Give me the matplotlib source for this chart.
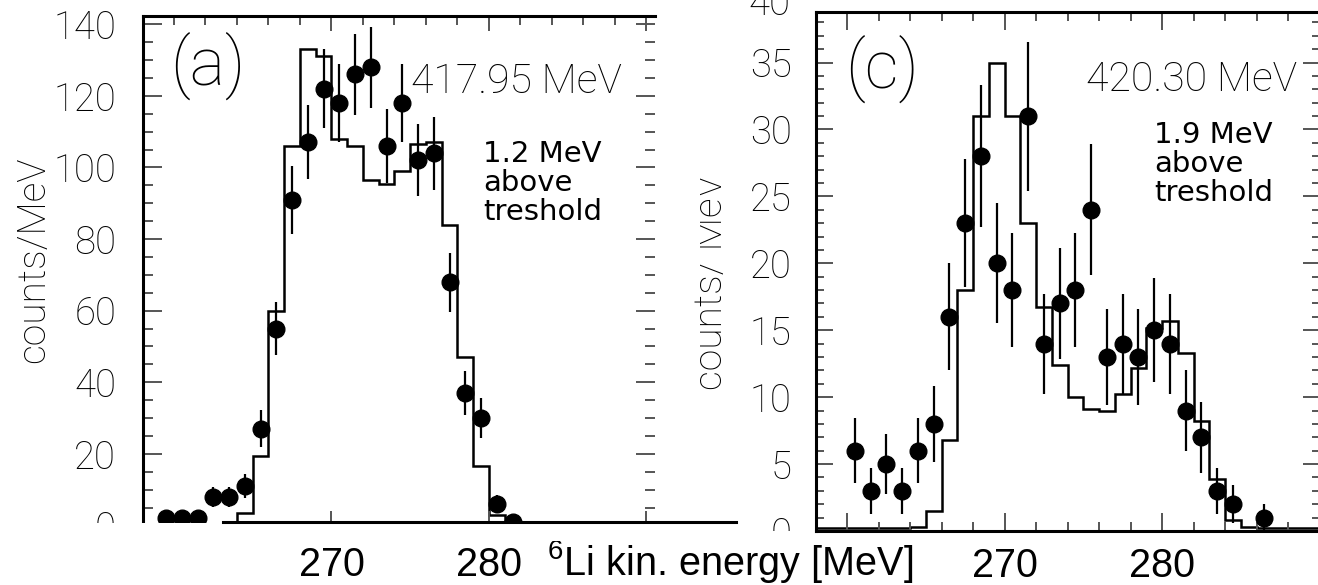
import matplotlib
matplotlib.use("Agg")
import matplotlib.pyplot as plt
from matplotlib.patches import Rectangle
from matplotlib.lines import Line2D
import numpy as np

# ---- panel (a): 417.95 MeV, 1.2 MeV above threshold ----
a_x = [259.5, 260.5, 261.5, 262.5, 263.5, 264.5, 265.5, 266.5, 267.5, 268.5,
       269.5, 270.5, 271.5, 272.5, 273.5, 274.5, 275.5, 276.5, 277.5, 278.5,
       279.5, 280.5, 281.5]
a_counts = [2, 2, 2, 8, 8, 11, 27, 55, 91, 107,
            122, 118, 126, 128, 106, 118, 102, 104, 68, 37,
            30, 6, 1]
a_edges = list(range(264, 282))
a_sim = [3.5, 19.5, 60, 106, 133, 131, 108, 106, 96.5, 95.5,
         99, 106.5, 107, 84, 47, 16.5, 3]

# ---- panel (c): 420.30 MeV, 1.9 MeV above threshold ----
c_x = [260.5, 261.5, 262.5, 263.5, 264.5, 265.5, 266.5, 267.5, 268.5, 269.5,
       270.5, 271.5, 272.5, 273.5, 274.5, 275.5, 276.5, 277.5, 278.5, 279.5,
       280.5, 281.5, 282.5, 283.5, 284.5, 286.5]
c_counts = [6, 3, 5, 3, 6, 8, 16, 23, 28, 20,
            18, 31, 14, 17, 18, 24, 13, 14, 13, 15,
            14, 9, 7, 3, 2, 1]
c_edges = list(range(258, 291))
c_sim = [0.2, 0.2, 0.2, 0.2, 0.2, 0.2, 0.3, 1.5, 6.8, 18,
         31, 35, 31, 23, 16.7, 12.4, 10, 9.1, 9, 10.2,
         12.2, 15.2, 15.7, 13.3, 8.2, 3.9, 0.8, 0.3, 0.2, 0.2,
         0.2, 0.2]

W, H = 1318, 585
plt.rcParams["font.family"] = ["Roboto", "DejaVu Sans"]
plt.rcParams["font.weight"] = "light"

fig = plt.figure(figsize=(W / 100, H / 100), dpi=100)


def box(x0, y0, x1, y1):
    # pixel box (top-left origin) -> figure fraction rect
    return [x0 / W, 1 - y1 / H, (x1 - x0) / W, (y1 - y0) / H]


def px(x, y):
    return x / W, 1 - y / H


def white_mask(x0, y0, x1, y1):
    fig.add_artist(Rectangle(px(x0, y1), (x1 - x0) / W, (y1 - y0) / H,
                             transform=fig.transFigure, facecolor="white",
                             edgecolor="none", zorder=5))


axL = fig.add_axes(box(142.5, 16, 655, 525.5))
axR = fig.add_axes(box(815.5, 11.7, 1320, 531))

for ax in (axL, axR):
    for s in ax.spines.values():
        s.set_linewidth(2.2)
    ax.tick_params(which="both", direction="in", top=True, right=True,
                   color="#555555", width=1.4)
    ax.tick_params(axis="y", labelsize=27.5, pad=19)
    ax.tick_params(axis="x", labelsize=28.5, labelfontfamily="Liberation Sans")

# panel (a)
axL.stairs(a_sim, a_edges, baseline=0, color="black", lw=1.8)
axL.errorbar(a_x, a_counts, yerr=np.sqrt(a_counts), fmt="o", ms=12,
             color="black", elinewidth=1.6, capsize=0)
axL.set_xlim(258, 290.54)
axL.set_ylim(0, 142.3)
axL.set_xticks([270, 280, 290], ["270", "280", ""])
axL.set_xticks(np.arange(258, 291, 2), minor=True)
axL.set_yticks(np.arange(0, 141, 20))
axL.set_yticks(np.arange(0, 142, 5), minor=True)
axL.tick_params(which="minor", bottom=False)
axL.tick_params(axis="x", which="major", length=11, pad=15)
axL.tick_params(axis="x", which="minor", length=6.5)
axL.tick_params(axis="y", which="major", length=14)
axL.tick_params(axis="y", which="minor", length=7)
axL.spines["right"].set_visible(False)
axL.spines["bottom"].set_visible(False)

# panel (c)
axR.stairs(c_sim, c_edges, baseline=None, color="black", lw=1.8)
axR.errorbar(c_x, c_counts, yerr=np.sqrt(c_counts), fmt="o", ms=12,
             color="black", elinewidth=1.6, capsize=0)
axR.set_xlim(258, 290.03)
axR.set_ylim(0, 38.8)
axR.set_xticks([260, 270, 280, 290], ["", "270", "280", ""])
axR.set_xticks(np.arange(258, 291, 2), minor=True)
axR.set_yticks(np.arange(0, 36, 5))
axR.set_yticks(np.arange(0, 39, 1), minor=True)
axR.tick_params(axis="x", which="major", length=13, pad=11.5)
axR.tick_params(axis="x", which="minor", length=6.5)
axR.tick_params(axis="y", which="major", length=12, pad=17)
axR.tick_params(axis="y", which="minor", length=6)

fig.text(*px(33, 259.5), "counts/MeV", rotation=90, ha="center", va="center",
         fontsize=28)
fig.text(*px(711.5, 282.5), "counts/ MeV", rotation=90, ha="center",
         va="center", fontsize=28)
fig.text(*px(790, 4), "40", ha="right", va="center", fontsize=27.5)

fig.text(*px(208, 66), "(a)", ha="center", va="center", fontsize=48)
fig.text(*px(882, 69), "(c)", ha="center", va="center", fontsize=48)
fig.text(*px(411, 82), "417.95 MeV", ha="left", va="center", fontsize=29.5)
fig.text(*px(1086, 80), "420.30 MeV", ha="left", va="center", fontsize=29.5)
fig.text(*px(483, 140), "1.2 MeV\nabove\ntreshold", ha="left", va="top",
         fontsize=21, family="DejaVu Sans", weight="normal", linespacing=1.05)
fig.text(*px(1154, 121), "1.9 MeV\nabove\ntreshold", ha="left", va="top",
         fontsize=21, family="DejaVu Sans", weight="normal", linespacing=1.05)

fig.text(*px(547, 575), r"$\mathregular{^6}$Li kin. energy [MeV]", ha="left",
         va="baseline", fontsize=28.5, family="Liberation Sans",
         weight="normal")

# white masks that cut labels, as in the scanned figure
white_mask(0, 523, 760, 541)
white_mask(740, 530.5, 812, 547)
white_mask(670, 150, 700, 300)
fig.add_artist(Line2D([223 / W, 736 / W], [1 - 522 / H, 1 - 522 / H],
                      transform=fig.transFigure, color="black", lw=2.2,
                      zorder=6))

fig.savefig("out.png", dpi=100)
